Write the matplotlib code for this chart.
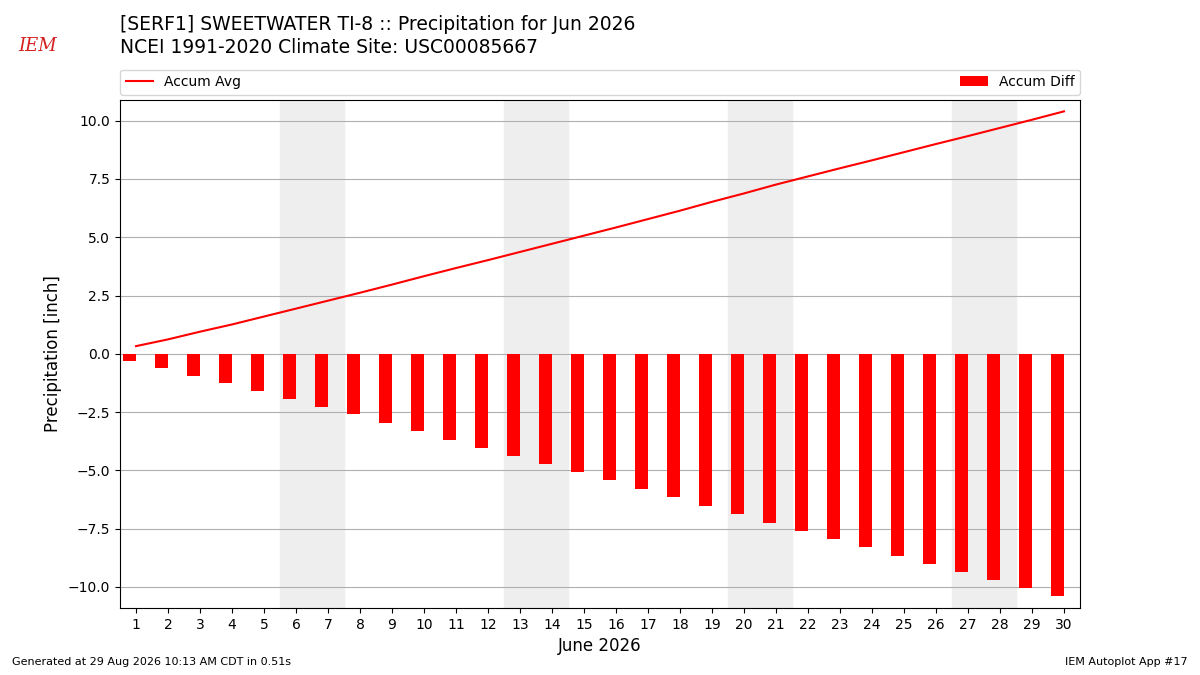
import numpy as np
import matplotlib
matplotlib.use("Agg")
import matplotlib.pyplot as plt

days = list(range(1, 31))
accum_avg = [0.33, 0.62, 0.95, 1.26, 1.60, 1.94, 2.28, 2.62, 2.97, 3.33,
             3.68, 4.02, 4.37, 4.72, 5.07, 5.42, 5.78, 6.14, 6.52, 6.88,
             7.26, 7.61, 7.96, 8.30, 8.65, 9.00, 9.34, 9.69, 10.04, 10.40]
accum_diff = [-0.29, -0.59, -0.93, -1.23, -1.58, -1.92, -2.26, -2.60, -2.95, -3.33,
              -3.68, -4.02, -4.37, -4.72, -5.07, -5.42, -5.78, -6.14, -6.54, -6.88,
              -7.27, -7.61, -7.96, -8.30, -8.65, -9.00, -9.34, -9.69, -10.03, -10.37]
weekends = [6, 13, 20, 27]

fig = plt.figure(figsize=(12, 6.75), dpi=100)
ax = fig.add_axes([0.1, 0.0993, 0.8, 0.753])

for d in weekends:
    ax.axvspan(d - 0.5, d + 1.5, color="#eeeeee", zorder=0)

ax.bar(np.array(days) - 0.2, accum_diff, width=0.4, color="r", label="Accum Diff", zorder=2)
ax.plot(days, accum_avg, color="r", lw=1.5, label="Accum Avg", zorder=3)

ax.set_xlim(0.5, 30.5)
ax.set_ylim(-10.9, 10.9)
ax.set_xticks(days)
ax.set_yticks(np.arange(-10, 10.1, 2.5))
ax.yaxis.grid(True, color="#b0b0b0", lw=0.8)
ax.set_axisbelow(True)
ax.tick_params(labelsize=10)
ax.set_xlabel("June 2026", fontsize=12)
ax.set_ylabel("Precipitation [inch]", fontsize=12)

ax.legend(loc="lower left", bbox_to_anchor=(0, 1.01, 1, 0.05), ncol=2,
          mode="expand", borderaxespad=0, fontsize=10)

fig.text(0.1, 0.963, "[SERF1] SWEETWATER TI-8 :: Precipitation for Jun 2026",
         fontsize=13.5, va="center")
fig.text(0.1, 0.929, "NCEI 1991-2020 Climate Site: USC00085667",
         fontsize=13.5, va="center")

# rough stand-in for the IEM logo
fig.text(0.031, 0.932, "IEM", color="#d42020", fontsize=13, family="serif",
         style="italic", va="center", ha="center")

fig.text(0.01, 0.015, "Generated at 29 Aug 2026 10:13 AM CDT in 0.51s", fontsize=8)
fig.text(0.99, 0.015, "IEM Autoplot App #17", fontsize=8, ha="right")

fig.savefig("out.png")
